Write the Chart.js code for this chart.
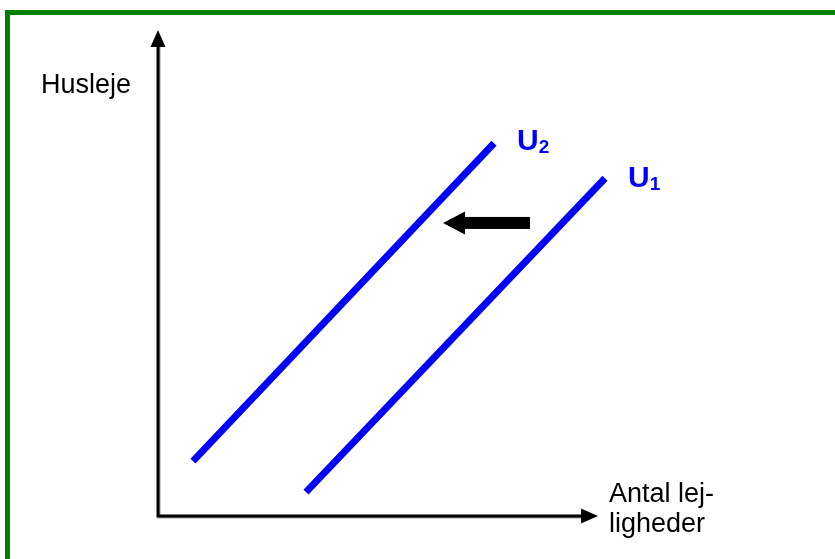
<!DOCTYPE html>
<html>
<head>
<meta charset="utf-8">
<script src="https://cdn.jsdelivr.net/npm/chart.js@4.4.1/dist/chart.umd.min.js"></script>
<style>
  html, body { margin: 0; padding: 0; background: #ffffff; }
  #chart { display: block; }
</style>
</head>
<body>
<canvas id="chart" width="835" height="559"></canvas>
<script>
// ---------------------------------------------------------------------------
// Data (axis units 0..100, no ticks shown)
// ---------------------------------------------------------------------------
const curveNames = ['U1', 'U2'];
const u1X = [29.6, 89.4];
const u1Y = [4.9, 69.5];
const u2X = [7.0, 67.2];
const u2Y = [11.3, 76.7];

// shift arrow between the curves (from -> to)
const shiftArrowX = [74.4, 57.0];
const shiftArrowY = [60.3, 60.3];

// axis extents
const axisEndX = 88;
const axisEndY = 100;

// text labels
const yAxisTitle = 'Husleje';
const xAxisTitle = ['Antal lej-', 'ligheder'];
const labelPosU1 = [94.0, 67.7];
const labelPosU2 = [71.8, 75.3];
const yTitlePos = [-23.4, 87.0];
const xTitlePos = [90.2, 2.8];

const BLUE = '#0000ff';
const GREEN = '#008000';

// ---------------------------------------------------------------------------
// Plugin: frame, axes with arrowheads, shift arrow and labels
// ---------------------------------------------------------------------------
const diagramPlugin = {
  id: 'diagram',
  beforeDatasetsDraw(chart) {
    const { ctx, scales: { x, y } } = chart;
    const x0 = x.getPixelForValue(0);
    const y0 = y.getPixelForValue(0);
    const xEnd = x.getPixelForValue(axisEndX);
    const yEnd = y.getPixelForValue(axisEndY);

    ctx.save();

    // green frame (runs off the right and bottom edge)
    ctx.strokeStyle = GREEN;
    ctx.lineWidth = 5;
    ctx.strokeRect(7.5, 12.5, chart.width + 20, chart.height + 20);

    // axes (thin grey shadow, then black line)
    ctx.lineWidth = 3;
    ctx.strokeStyle = '#9a9a9a';
    ctx.beginPath();
    ctx.moveTo(x0 + 1, yEnd + 14);
    ctx.lineTo(x0 + 1, y0 + 1);
    ctx.lineTo(xEnd - 14, y0 + 1);
    ctx.stroke();

    ctx.strokeStyle = '#000';
    ctx.fillStyle = '#000';
    ctx.beginPath();
    ctx.moveTo(x0, yEnd + 12);
    ctx.lineTo(x0, y0);
    ctx.lineTo(xEnd - 12, y0);
    ctx.stroke();

    // arrow heads
    ctx.beginPath();
    ctx.moveTo(x0, yEnd);
    ctx.lineTo(x0 - 7.5, yEnd + 17);
    ctx.lineTo(x0 + 7.5, yEnd + 17);
    ctx.closePath();
    ctx.fill();

    ctx.beginPath();
    ctx.moveTo(xEnd, y0);
    ctx.lineTo(xEnd - 17, y0 - 7.5);
    ctx.lineTo(xEnd - 17, y0 + 7.5);
    ctx.closePath();
    ctx.fill();

    // shift arrow
    const ax1 = x.getPixelForValue(shiftArrowX[0]);
    const ax2 = x.getPixelForValue(shiftArrowX[1]);
    const ay = y.getPixelForValue(shiftArrowY[0]);
    const headLen = 22;
    ctx.fillRect(ax2 + headLen - 1, ay - 6, ax1 - ax2 - headLen + 1, 12);
    ctx.beginPath();
    ctx.moveTo(ax2, ay);
    ctx.lineTo(ax2 + headLen, ay - 11.5);
    ctx.lineTo(ax2 + headLen, ay + 11.5);
    ctx.closePath();
    ctx.fill();

    ctx.restore();
  },
  afterDatasetsDraw(chart) {
    const { ctx, scales: { x, y } } = chart;
    ctx.save();
    ctx.textBaseline = 'alphabetic';
    ctx.textAlign = 'left';

    // axis titles
    ctx.fillStyle = '#000';
    ctx.font = '27px "Liberation Sans", Arial, sans-serif';
    ctx.fillText(yAxisTitle, x.getPixelForValue(yTitlePos[0]), y.getPixelForValue(yTitlePos[1]));
    const tx = x.getPixelForValue(xTitlePos[0]);
    const ty = y.getPixelForValue(xTitlePos[1]);
    xAxisTitle.forEach((line, i) => ctx.fillText(line, tx, ty + i * 30));

    // curve labels with subscripts
    ctx.fillStyle = BLUE;
    const drawCurveLabel = (name, pos) => {
      const px = x.getPixelForValue(pos[0]);
      const py = y.getPixelForValue(pos[1]);
      ctx.font = 'bold 30px "Liberation Sans", Arial, sans-serif';
      ctx.fillText(name[0], px, py);
      const w = ctx.measureText(name[0]).width;
      ctx.font = 'bold 19px "Liberation Sans", Arial, sans-serif';
      ctx.fillText(name.slice(1), px + w, py + 3);
    };
    drawCurveLabel(curveNames[0], labelPosU1);
    drawCurveLabel(curveNames[1], labelPosU2);

    ctx.restore();
  }
};

// ---------------------------------------------------------------------------
// Chart
// ---------------------------------------------------------------------------
const ctx = document.getElementById('chart').getContext('2d');

const toPoints = (xs, ys) => xs.map((v, i) => ({ x: v, y: ys[i] }));

new Chart(ctx, {
  type: 'scatter',
  data: {
    datasets: [
      {
        label: curveNames[0],
        data: toPoints(u1X, u1Y),
        showLine: true,
        borderColor: BLUE,
        borderWidth: 7,
        borderCapStyle: 'butt',
        pointRadius: 0,
        fill: false
      },
      {
        label: curveNames[1],
        data: toPoints(u2X, u2Y),
        showLine: true,
        borderColor: BLUE,
        borderWidth: 7,
        borderCapStyle: 'butt',
        pointRadius: 0,
        fill: false
      }
    ]
  },
  options: {
    responsive: false,
    animation: false,
    layout: {
      padding: { left: 158, right: 177, top: 30, bottom: 43 }
    },
    plugins: {
      legend: { display: false },
      tooltip: { enabled: false }
    },
    scales: {
      x: { type: 'linear', min: 0, max: 100, display: false },
      y: { type: 'linear', min: 0, max: 100, display: false }
    }
  },
  plugins: [diagramPlugin]
});
</script>
</body>
</html>
